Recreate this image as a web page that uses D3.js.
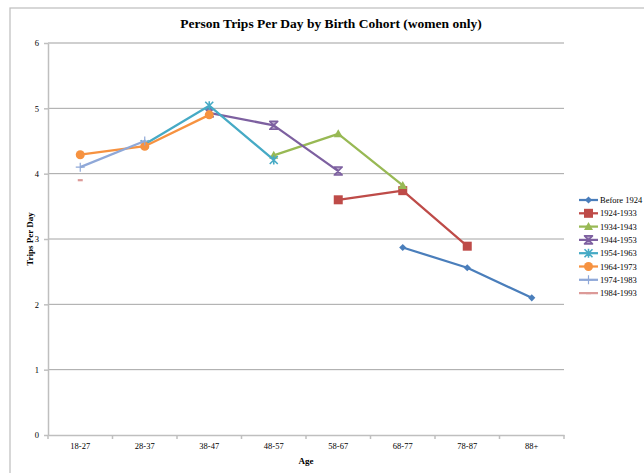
<!DOCTYPE html>
<head>
  <meta charset="utf-8">
  <style>
    body { margin: 0; background: #fff; }
    svg text { font-family: "Liberation Serif", "Times New Roman", serif; fill: #000; }
    svg .grid { stroke: #868686; stroke-width: 0.75px; }
    svg .axis path, svg .axis line { stroke: #BFBFBF; stroke-width: 1.5px; }
    svg .tick text { font-size: 8.5px; }
  </style>
</head>
<body>
<script src="https://d3js.org/d3.v7.min.js"></script>
<script>
  // age groups along the x axis
  var ages = ["18-27", "28-37", "38-47", "48-57", "58-67", "68-77", "78-87", "88+"];
  var yTicks = [0, 1, 2, 3, 4, 5, 6];

  var cohorts = ["Before 1924", "1924-1933", "1934-1943", "1944-1953",
                 "1954-1963", "1964-1973", "1974-1983", "1984-1993"];
  var colors  = ["#4A7EBB", "#BE4B48", "#98B954", "#7D60A0",
                 "#46AAC5", "#F69240", "#8FA8D8", "#DC9A98"];
  var markers = ["diamond", "square", "triangle", "hourglass", "star", "circle", "plus", "dash"];

  // trips per day, one value per age group (null = no data)
  var before1924 = [null, null, null, null, null, 2.87, 2.56, 2.10];
  var c1924 = [null, null, null, null, 3.60, 3.74, 2.89, null];
  var c1934 = [null, null, null, 4.28, 4.61, 3.82, null, null];
  var c1944 = [null, null, 4.93, 4.74, 4.04, null, null, null];
  var c1954 = [null, 4.45, 5.04, 4.21, null, null, null, null];
  var c1964 = [4.29, 4.42, 4.90, null, null, null, null, null];
  var c1974 = [4.10, 4.50, null, null, null, null, null, null];
  var c1984 = [3.90, null, null, null, null, null, null, null];
  var seriesValues = [before1924, c1924, c1934, c1944, c1954, c1964, c1974, c1984];

  var W = 644, H = 473;
  var plot = { left: 48, right: 564, top: 43, bottom: 435 };
  var serif = "Liberation Serif, Times New Roman, serif";

  var svg = d3.select("body").append("svg")
      .attr("width", W)
      .attr("height", H);

  // outer chart frame (runs off the right/bottom like the original)
  svg.append("rect")
      .attr("x", 10).attr("y", 8)
      .attr("width", W + 20).attr("height", H + 20)
      .style("fill", "none")
      .style("stroke", "#BFBFBF")
      .style("stroke-width", "1.25px");

  var xScale = d3.scaleBand().domain(ages).range([plot.left, plot.right]);
  var yScale = d3.scaleLinear().domain([0, 6]).range([plot.bottom, plot.top]);

  // horizontal gridlines
  svg.selectAll("line.grid")
    .data(yTicks.filter(function (d) { return d > 0 && d < 6; }))
    .enter().append("line")
      .classed("grid", true)
      .attr("x1", plot.left).attr("x2", plot.right)
      .attr("y1", function (d) { return yScale(d); })
      .attr("y2", function (d) { return yScale(d); });

  // top gridline is lighter in the original
  svg.append("line")
      .attr("x1", plot.left).attr("x2", plot.right)
      .attr("y1", yScale(6)).attr("y2", yScale(6))
      .style("stroke", "#BFBFBF").style("stroke-width", "1.5px");

  // y axis
  var yAxis = d3.axisLeft(yScale)
      .tickValues(yTicks)
      .tickFormat(d3.format("d"))
      .tickSize(4).tickSizeOuter(0).tickPadding(5);
  svg.append("g")
      .classed("axis", true)
      .attr("transform", "translate(" + plot.left + ",0)")
      .call(yAxis)
      .attr("font-family", serif)
      .attr("font-size", 8.5);

  // x axis: labels centred on bands, tick marks on band edges
  var xAxis = d3.axisBottom(xScale).tickSize(0).tickSizeOuter(0).tickPadding(8);
  var gx = svg.append("g")
      .classed("axis", true)
      .attr("transform", "translate(0," + plot.bottom + ")")
      .call(xAxis)
      .attr("font-family", serif)
      .attr("font-size", 8.5);
  gx.selectAll(".tick line").remove();
  var edges = ages.map(function (a) { return xScale(a); }).concat([plot.right]);
  gx.selectAll("line.edge")
    .data(edges)
    .enter().append("line")
      .attr("x1", function (d) { return d; }).attr("x2", function (d) { return d; })
      .attr("y1", 0).attr("y2", 4);

  // axis titles
  svg.append("text")
      .attr("x", (plot.left + plot.right) / 2)
      .attr("y", 464)
      .attr("text-anchor", "middle")
      .style("font-size", "9px").style("font-weight", "bold")
      .text("Age");

  svg.append("text")
      .attr("transform", "translate(33," + ((plot.top + plot.bottom) / 2) + ") rotate(-90)")
      .attr("text-anchor", "middle")
      .style("font-size", "9px").style("font-weight", "bold")
      .text("Trips Per Day");

  // chart title
  svg.append("text")
      .attr("x", 331)
      .attr("y", 28)
      .attr("text-anchor", "middle")
      .style("font-size", "13.5px").style("font-weight", "bold")
      .text("Person Trips Per Day by Birth Cohort (women only)");

  // marker drawing
  function drawMarker(g, type, color, x, y) {
    var s = 3.6;
    if (type === "diamond") {
      g.append("path")
          .attr("d", "M" + x + "," + (y - s) + "L" + (x + s) + "," + y + "L" + x + "," + (y + s) + "L" + (x - s) + "," + y + "Z")
          .style("fill", color);
    } else if (type === "square") {
      g.append("rect")
          .attr("x", x - 4.5).attr("y", y - 4.5)
          .attr("width", 9).attr("height", 9)
          .style("fill", color);
    } else if (type === "triangle") {
      g.append("path")
          .attr("d", "M" + x + "," + (y - 4.5) + "L" + (x + 4.5) + "," + (y + 3.5) + "L" + (x - 4.5) + "," + (y + 3.5) + "Z")
          .style("fill", color);
    } else if (type === "hourglass") {
      g.append("path")
          .attr("d", "M" + (x - 4) + "," + (y - 4) + "L" + (x + 4) + "," + (y - 4) + "L" + (x - 4) + "," + (y + 4) +
                     "L" + (x + 4) + "," + (y + 4) + "Z")
          .style("fill", color).style("fill-opacity", 0.55)
          .style("stroke", color).style("stroke-width", "1.6px").style("stroke-linejoin", "round");
    } else if (type === "star") {
      g.append("path")
          .attr("d", "M" + (x - 4) + "," + (y - 4) + "L" + (x + 4) + "," + (y + 4) +
                     "M" + (x + 4) + "," + (y - 4) + "L" + (x - 4) + "," + (y + 4) +
                     "M" + x + "," + (y - 4.5) + "L" + x + "," + (y + 4.5))
          .style("fill", "none").style("stroke", color).style("stroke-width", "1.6px");
    } else if (type === "circle") {
      g.append("circle")
          .attr("cx", x).attr("cy", y).attr("r", 4.5)
          .style("fill", color);
    } else if (type === "plus") {
      g.append("path")
          .attr("d", "M" + (x - 4.5) + "," + y + "L" + (x + 4.5) + "," + y +
                     "M" + x + "," + (y - 4.5) + "L" + x + "," + (y + 4.5))
          .style("fill", "none").style("stroke", color).style("stroke-width", "1.2px");
    } else if (type === "dash") {
      g.append("path")
          .attr("d", "M" + (x - 2.5) + "," + y + "L" + (x + 2.5) + "," + y)
          .style("fill", "none").style("stroke", color).style("stroke-width", "2.2px");
    }
  }

  var line = d3.line()
      .defined(function (d) { return d.v !== null; })
      .x(function (d) { return xScale(d.age) + xScale.bandwidth() / 2; })
      .y(function (d) { return yScale(d.v); });

  // series lines and markers
  seriesValues.forEach(function (vals, i) {
    var pts = ages.map(function (a, j) { return { age: a, v: vals[j] }; });
    var g = svg.append("g");
    g.append("path")
        .attr("d", line(pts))
        .style("fill", "none")
        .style("stroke", colors[i])
        .style("stroke-width", "2.25px")
        .style("stroke-linejoin", "round");
    pts.filter(function (d) { return d.v !== null; }).forEach(function (d) {
      drawMarker(g, markers[i], colors[i], xScale(d.age) + xScale.bandwidth() / 2, yScale(d.v));
    });
  });

  // legend
  var legend = svg.append("g");
  cohorts.forEach(function (c, i) {
    var y = 200 + i * 13.3;
    var g = legend.append("g");
    g.append("line")
        .attr("x1", 579).attr("x2", 598)
        .attr("y1", y).attr("y2", y)
        .style("stroke", colors[i]).style("stroke-width", "2.25px");
    drawMarker(g, markers[i], colors[i], 588.5, y);
    g.append("text")
        .attr("x", 600)
        .attr("y", y + 3)
        .style("font-size", "8.5px")
        .text(c);
  });
</script>
</body>
</html>
